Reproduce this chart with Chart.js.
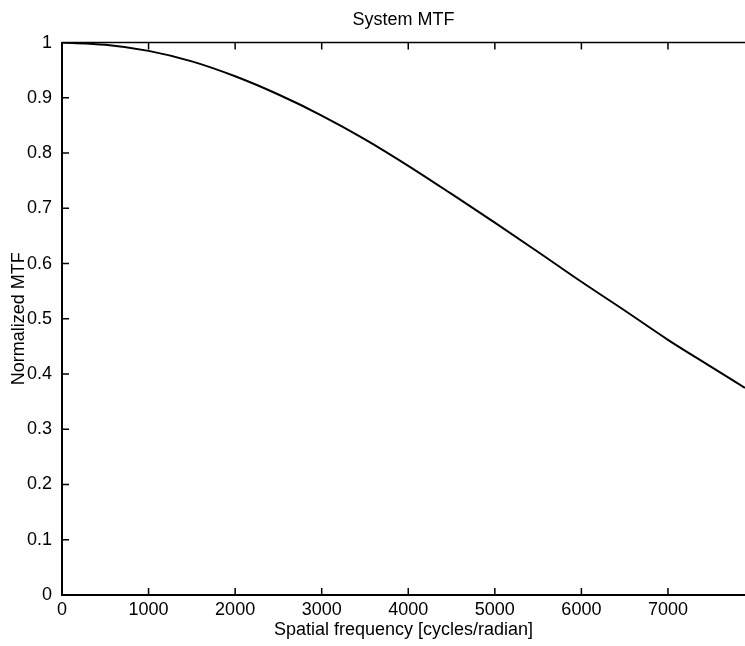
<!DOCTYPE html>
<html>
<head>
<meta charset="utf-8">
<title>System MTF</title>
<script src="https://cdn.jsdelivr.net/npm/chart.js@4"></script>
<style>
  html, body { margin: 0; padding: 0; background: #fff; overflow: hidden; }
  #wrap { width: 745px; height: 646px; }
</style>
</head>
<body>
<div id="wrap"><canvas id="mtf" width="745" height="646"></canvas></div>
<script>
// ---- data ----
const freq = [0, 500, 1000, 1500, 2000, 2500, 3000, 3500, 4000, 4500, 5000, 5500, 6000, 6500, 7000, 7500, 7890];
const mtf  = [1.000, 0.996, 0.985, 0.966, 0.939, 0.906, 0.868, 0.825, 0.777, 0.726, 0.674, 0.621, 0.567, 0.515, 0.462, 0.413, 0.375];

const xTicks = [0, 1000, 2000, 3000, 4000, 5000, 6000, 7000];
const yTicks = [0, 0.1, 0.2, 0.3, 0.4, 0.5, 0.6, 0.7, 0.8, 0.9, 1];
const yTickLabels = ['0', '0.1', '0.2', '0.3', '0.4', '0.5', '0.6', '0.7', '0.8', '0.9', '1'];

const FONT = '"Liberation Sans", Arial, Helvetica, sans-serif';

// matlab style: ticks pointing inward + top box line (right side is cut off)
const matlabTicks = {
  id: 'matlabTicks',
  afterDraw(chart) {
    const { ctx, chartArea: a, scales: { x, y } } = chart;
    ctx.save();
    ctx.strokeStyle = '#000';
    ctx.lineWidth = 1.5;
    ctx.beginPath();
    ctx.moveTo(a.left, a.top);
    ctx.lineTo(a.right, a.top);
    x.ticks.forEach(t => {
      const px = x.getPixelForValue(t.value);
      ctx.moveTo(px, a.bottom);
      ctx.lineTo(px, a.bottom - 7);
      ctx.moveTo(px, a.top);
      ctx.lineTo(px, a.top + 7);
    });
    y.ticks.forEach(t => {
      const py = y.getPixelForValue(t.value);
      ctx.moveTo(a.left, py);
      ctx.lineTo(a.left + 7, py);
    });
    ctx.stroke();
    ctx.restore();
  }
};

const ctx = document.getElementById('mtf').getContext('2d');
new Chart(ctx, {
  type: 'line',
  data: {
    datasets: [{
      data: freq.map((f, i) => ({ x: f, y: mtf[i] })),
      borderColor: '#000',
      borderWidth: 2,
      pointRadius: 0,
      fill: false,
      cubicInterpolationMode: 'monotone'
    }]
  },
  options: {
    responsive: false,
    animation: false,
    layout: { padding: 0 },
    plugins: {
      legend: { display: false },
      tooltip: { enabled: false },
      title: {
        display: true,
        text: 'System MTF',
        fullSize: false,
        color: '#000',
        font: { family: FONT, size: 18, weight: 'normal' },
        padding: { top: 9, bottom: 12 }
      }
    },
    scales: {
      x: {
        type: 'linear',
        min: 0,
        max: 7890,
        grid: { display: false, drawTicks: false },
        border: { display: true, color: '#000', width: 2 },
        afterBuildTicks: s => { s.ticks = xTicks.map(v => ({ value: v })); },
        afterFit: s => { s.height = 51; },
        ticks: {
          color: '#000',
          padding: 4,
          maxRotation: 0,
          font: { family: FONT, size: 18 },
          callback: v => String(v)
        },
        title: {
          display: true,
          text: 'Spatial frequency [cycles/radian]',
          color: '#000',
          font: { family: FONT, size: 18 },
          padding: { top: 0, bottom: 5 }
        }
      },
      y: {
        min: 0,
        max: 1,
        grid: { display: false, drawTicks: false },
        border: { display: true, color: '#000', width: 2 },
        afterBuildTicks: s => { s.ticks = yTicks.map(v => ({ value: v })); },
        afterFit: s => { s.width = 62; },
        ticks: {
          color: '#000',
          padding: 10,
          font: { family: FONT, size: 18 },
          callback: v => yTickLabels[yTicks.findIndex(t => Math.abs(t - v) < 1e-6)]
        },
        title: {
          display: true,
          text: 'Normalized MTF',
          color: '#000',
          font: { family: FONT, size: 18 },
          padding: { top: 8, bottom: 0 }
        }
      }
    }
  },
  plugins: [matlabTicks]
});
</script>
</body>
</html>
